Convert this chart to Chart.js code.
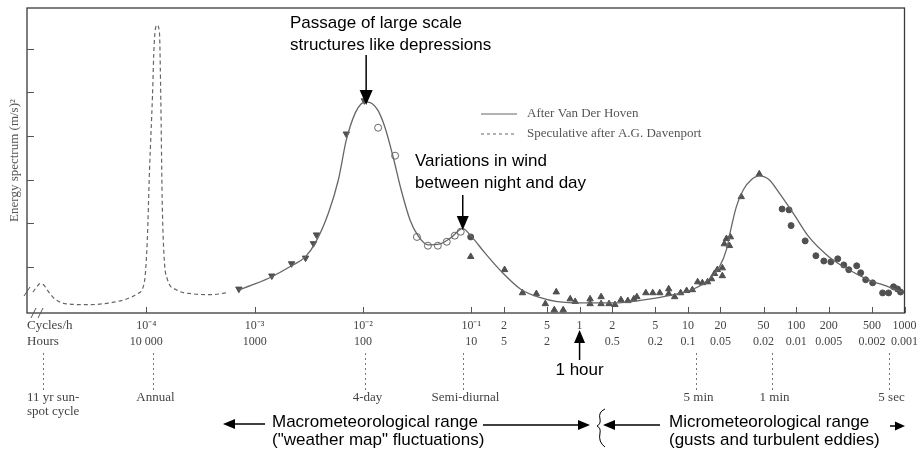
<!DOCTYPE html>
<html>
<head>
<meta charset="utf-8">
<script src="https://cdn.jsdelivr.net/npm/chart.js@4.4.1/dist/chart.umd.min.js"></script>
<style>
  html, body { margin: 0; padding: 0; background: #fff; }
</style>
</head>
<body>
<canvas id="spectrum" width="923" height="449"></canvas>
<script>
// frequencies in cycles per hour, energy in arbitrary linear units (one unit per y tick)
const curveFreq = [7.15e-4, 1.02e-3, 1.44e-3, 2.19e-3, 2.95e-3, 3.64e-3, 4.80e-3, 5.93e-3, 7.02e-3, 8.49e-3,
  9.64e-3, 1.07e-2, 1.22e-2, 1.38e-2, 1.60e-2, 1.90e-2, 2.25e-2, 2.72e-2, 3.22e-2, 3.98e-2,
  5.13e-2, 6.47e-2, 8.34e-2, 9.88e-2, 0.133, 0.186, 0.284, 0.434, 0.622, 1.10,
  2.08, 3.92, 7.39, 11.3, 15.8, 19.6, 22.7, 25.2, 28.0, 32.5,
  38.5, 45.6, 56.3, 69.6, 93.5, 131, 200, 306, 467, 713, 958];
const curveEnergy = [0.48, 0.62, 0.78, 1.03, 1.24, 1.56, 2.24, 3.00, 3.91, 4.53,
  4.74, 4.78, 4.74, 4.58, 4.19, 3.52, 2.77, 2.08, 1.72, 1.51,
  1.53, 1.67, 1.88, 1.72, 1.33, 0.92, 0.50, 0.30, 0.21, 0.18,
  0.18, 0.25, 0.37, 0.50, 0.73, 1.01, 1.40, 1.92, 2.38, 2.77,
  3.00, 3.09, 3.00, 2.70, 2.24, 1.69, 1.24, 0.94, 0.71, 0.55, 0.43];

const dashFreq = [8.97e-6, 9.76e-6, 1.04e-5, 1.13e-5, 1.23e-5, 1.43e-5, 1.84e-5, 2.81e-5, 4.57e-5, 6.55e-5,
  8.27e-5, 9.59e-5, 1.02e-4, 1.07e-4, 1.14e-4, 1.18e-4, 1.25e-4, 1.32e-4, 1.36e-4, 1.40e-4,
  1.46e-4, 1.56e-4, 1.89e-4, 2.65e-4, 4.04e-4, 5.43e-4];
const dashEnergy = [0.43, 0.55, 0.62, 0.59, 0.46, 0.27, 0.16, 0.14, 0.18, 0.27,
  0.39, 0.66, 1.62, 3.23, 4.94, 6.09, 6.54, 6.38, 4.83, 2.54,
  1.21, 0.73, 0.48, 0.39, 0.37, 0.41];

const downTriFreq = [7.15e-4, 1.44e-3, 2.19e-3, 2.95e-3, 3.49e-3, 3.72e-3, 7.02e-3, 1.03e-2];
const downTriEnergy = [0.50, 0.80, 1.08, 1.21, 1.54, 1.74, 4.05, 4.81];

const openCircFreq = [1.38e-2, 1.98e-2, 3.15e-2, 3.98e-2, 4.91e-2, 5.94e-2, 7.04e-2, 7.99e-2];
const openCircEnergy = [4.19, 3.55, 1.69, 1.49, 1.49, 1.58, 1.72, 1.81];

const upTriFreq = [0.0988, 0.203, 0.297, 0.399, 0.483, 0.609, 0.584, 0.706, 0.819, 0.910,
  1.25, 1.25, 1.58, 1.58, 1.87, 2.12, 2.41, 2.79, 3.17, 3.38,
  4.09, 4.74, 5.50, 6.65, 6.65, 7.55, 8.57, 9.73, 11.0, 12.3,
  13.6, 15.2, 16.5, 17.6, 18.7, 20.8, 20.8, 21.7, 22.7, 24.7, 24.2, 31.1, 45.6];
const upTriEnergy = [1.24, 0.94, 0.41, 0.39, 0.16, 0.43, 0.02, 0.02, 0.27, 0.21,
  0.27, 0.16, 0.32, 0.16, 0.16, 0.14, 0.25, 0.23, 0.27, 0.32,
  0.41, 0.41, 0.41, 0.50, 0.39, 0.32, 0.41, 0.46, 0.48, 0.66,
  0.64, 0.66, 0.73, 0.85, 0.94, 0.98, 0.80, 1.53, 1.65, 1.69, 1.49, 2.61, 3.13];

const dotFreq = [0.0988, 74.1, 85.9, 89.7, 121, 152, 180, 209, 242, 275,
  306, 362, 394, 438, 508, 628, 713, 792, 862, 919];
const dotEnergy = [1.69, 2.33, 2.31, 1.95, 1.60, 1.26, 1.14, 1.12, 1.19, 1.05,
  0.94, 1.03, 0.87, 0.71, 0.64, 0.41, 0.41, 0.55, 0.50, 0.43];

// axis ticks
const cycleTicks = [1e-4, 1e-3, 1e-2, 0.1, 0.2, 0.5, 1, 2, 5, 10, 20, 50, 100, 200, 500, 1000];
const cycleLabels = ['10\u207B\u2074', '10\u207B\u00B3', '10\u207B\u00B2', '10\u207B\u00B9', '2', '5', '1', '2', '5',
  '10', '20', '50', '100', '200', '500', '1000'];
const hourLabels = ['10 000', '1000', '100', '10', '5', '2', '', '0.5', '0.2', '0.1', '0.05', '0.02',
  '0.01', '0.005', '0.002', '0.001'];
const energyTicks = [1, 2, 3, 4, 5, 6];

// named periods under the axis
const periodFreq = [1.1e-5, 1 / 8766, 1 / 96, 1 / 12, 12, 60, 720];
const periodNames = [['11 yr sun-', 'spot cycle'], ['Annual'], ['4-day'], ['Semi-diurnal'], ['5 min'], ['1 min'], ['5 sec']];

const serif = '"Liberation Serif", "Times New Roman", serif';
const sans = '"Liberation Sans", Arial, sans-serif';

function toPoints(xs, ys) {
  return xs.map((v, i) => ({ x: v, y: ys[i] }));
}

function arrow(ctx, x1, y1, x2, y2, len, half) {
  const ang = Math.atan2(y2 - y1, x2 - x1);
  const bx = x2 - len * Math.cos(ang);
  const by = y2 - len * Math.sin(ang);
  ctx.beginPath();
  ctx.moveTo(x1, y1);
  ctx.lineTo(bx, by);
  ctx.stroke();
  ctx.beginPath();
  ctx.moveTo(x2, y2);
  ctx.lineTo(bx + half * Math.sin(ang), by - half * Math.cos(ang));
  ctx.lineTo(bx - half * Math.sin(ang), by + half * Math.cos(ang));
  ctx.closePath();
  ctx.fill();
}

const overlay = {
  id: 'overlay',
  afterDraw(chart) {
    const { ctx, chartArea: a, scales: { x, y } } = chart;
    ctx.save();

    // frame and inward ticks
    ctx.strokeStyle = '#3a3a3a';
    ctx.lineWidth = 1.3;
    ctx.strokeRect(a.left, a.top, a.right - a.left, a.bottom - a.top);
    ctx.lineWidth = 1;
    ctx.strokeStyle = '#555';
    ctx.beginPath();
    x.ticks.forEach(t => {
      const px = Math.round(x.getPixelForValue(t.value)) + 0.5;
      ctx.moveTo(px, a.bottom);
      ctx.lineTo(px, a.bottom - 6);
    });
    y.ticks.forEach(t => {
      const py = Math.round(y.getPixelForValue(t.value)) + 0.5;
      ctx.moveTo(a.left, py);
      ctx.lineTo(a.left + 7, py);
    });
    ctx.stroke();

    // axis break marks
    ctx.strokeStyle = '#555';
    ctx.beginPath();
    ctx.moveTo(31, a.bottom + 5); ctx.lineTo(36, a.bottom - 5);
    ctx.moveTo(38, a.bottom + 5); ctx.lineTo(43, a.bottom - 5);
    ctx.moveTo(a.left - 3, a.bottom - 17); ctx.lineTo(a.left + 3, a.bottom - 26);
    ctx.stroke();

    // row titles for the two tick rows
    ctx.fillStyle = '#444';
    ctx.font = '13px ' + serif;
    ctx.textAlign = 'left';
    ctx.textBaseline = 'middle';
    ctx.fillText('Cycles/h', a.left, 326);
    ctx.fillText('Hours', a.left, 342);

    // named periods with dotted guides
    ctx.setLineDash([2, 3]);
    ctx.strokeStyle = '#777';
    periodFreq.forEach((f, i) => {
      const px = Math.round(x.getPixelForValue(f)) + 0.5;
      ctx.beginPath();
      ctx.moveTo(px, 353);
      ctx.lineTo(px, 390);
      ctx.stroke();
      const names = periodNames[i];
      ctx.textAlign = i === 0 ? 'left' : 'center';
      names.forEach((n, j) => ctx.fillText(n, i === 0 ? a.left : px + 2, 398 + j * 14));
    });
    ctx.setLineDash([]);

    // legend
    ctx.strokeStyle = '#666';
    ctx.lineWidth = 1;
    ctx.beginPath(); ctx.moveTo(481, 114); ctx.lineTo(517, 114); ctx.stroke();
    ctx.setLineDash([3, 3]);
    ctx.beginPath(); ctx.moveTo(481, 134); ctx.lineTo(517, 134); ctx.stroke();
    ctx.setLineDash([]);
    ctx.fillStyle = '#555';
    ctx.textAlign = 'left';
    ctx.fillText('After Van Der Hoven', 527, 114);
    ctx.fillText('Speculative after A.G. Davenport', 527, 134);

    // annotations
    ctx.fillStyle = '#000';
    ctx.strokeStyle = '#000';
    ctx.lineWidth = 1.5;
    ctx.font = '17px ' + sans;
    ctx.textBaseline = 'alphabetic';
    ctx.fillText('Passage of large scale', 290, 28);
    ctx.fillText('structures like depressions', 290, 50);
    const peakX = x.getPixelForValue(0.0107);
    arrow(ctx, peakX, 55, peakX, 105, 15, 6.5);

    ctx.fillText('Variations in wind', 415, 166);
    ctx.fillText('between night and day', 415, 188);
    const semiX = x.getPixelForValue(0.0834);
    arrow(ctx, semiX, 195, semiX, 230, 14, 6);

    const hourX = x.getPixelForValue(1);
    arrow(ctx, hourX, 360, hourX, 330, 13, 5.5);
    ctx.textAlign = 'center';
    ctx.fillText('1 hour', hourX, 375);

    ctx.textAlign = 'left';
    ctx.fillText('Macrometeorological range', 272, 427);
    ctx.fillText('("weather map" fluctuations)', 272, 445);
    arrow(ctx, 265, 424, 223, 424, 12, 5);
    arrow(ctx, 483, 425, 590, 425, 12, 5);
    arrow(ctx, 660, 425, 603, 425, 12, 5);
    ctx.fillText('Micrometeorological range', 669, 427);
    ctx.fillText('(gusts and turbulent eddies)', 669, 445);
    arrow(ctx, 890, 426, 905, 426, 10, 4.5);

    // brace between the two ranges
    ctx.lineWidth = 1;
    ctx.beginPath();
    ctx.moveTo(605, 409);
    ctx.quadraticCurveTo(598, 412, 600, 419);
    ctx.quadraticCurveTo(601, 424, 597, 426);
    ctx.quadraticCurveTo(601, 428, 600, 433);
    ctx.quadraticCurveTo(598, 442, 605, 447);
    ctx.stroke();

    ctx.restore();
  }
};

const markerColor = '#505050';

new Chart(document.getElementById('spectrum'), {
  type: 'scatter',
  data: {
    datasets: [
      {
        label: 'After Van Der Hoven',
        data: toPoints(curveFreq, curveEnergy),
        showLine: true,
        borderColor: '#666',
        borderWidth: 1.3,
        pointRadius: 0,
        cubicInterpolationMode: 'monotone'
      },
      {
        label: 'Speculative after A.G. Davenport',
        data: toPoints(dashFreq, dashEnergy),
        showLine: true,
        borderColor: '#666',
        borderWidth: 1.2,
        borderDash: [4, 3],
        pointRadius: 0,
        cubicInterpolationMode: 'monotone'
      },
      {
        label: 'down triangles',
        data: toPoints(downTriFreq, downTriEnergy),
        pointStyle: 'triangle',
        pointRotation: 180,
        pointRadius: 3.7,
        backgroundColor: markerColor,
        borderColor: markerColor,
        borderWidth: 1
      },
      {
        label: 'open circles',
        data: toPoints(openCircFreq, openCircEnergy),
        pointStyle: 'circle',
        pointRadius: 3.5,
        backgroundColor: '#fff',
        borderColor: '#666',
        borderWidth: 1
      },
      {
        label: 'up triangles',
        data: toPoints(upTriFreq, upTriEnergy),
        pointStyle: 'triangle',
        pointRadius: 3.7,
        backgroundColor: markerColor,
        borderColor: markerColor,
        borderWidth: 1
      },
      {
        label: 'filled circles',
        data: toPoints(dotFreq, dotEnergy),
        pointStyle: 'circle',
        pointRadius: 3,
        backgroundColor: markerColor,
        borderColor: markerColor,
        borderWidth: 1
      }
    ]
  },
  options: {
    responsive: false,
    animation: false,
    devicePixelRatio: 1,
    layout: { padding: { top: 8, right: 14, left: 0, bottom: 0 } },
    plugins: {
      legend: { display: false },
      tooltip: { enabled: false }
    },
    scales: {
      x: {
        type: 'logarithmic',
        bounds: 'data',
        min: Math.pow(10, -5.102),
        max: 1000,
        grid: { display: false, drawTicks: false },
        border: { display: false },
        afterBuildTicks: (scale) => {
          scale.ticks = cycleTicks.map(v => ({ value: v }));
        },
        afterFit: (scale) => { scale.height = 136; },
        ticks: {
          autoSkip: false,
          maxRotation: 0,
          minRotation: 0,
          padding: 5,
          color: '#444',
          font: { family: serif, size: 12, lineHeight: 1.333 },
          callback: (value, index) => [cycleLabels[index], hourLabels[index]]
        }
      },
      y: {
        type: 'linear',
        min: -0.05,
        max: 6.93,
        grid: { display: false, drawTicks: false },
        border: { display: false },
        afterBuildTicks: (scale) => {
          scale.ticks = energyTicks.map(v => ({ value: v }));
        },
        afterFit: (scale) => { scale.width = 27; },
        ticks: { display: false },
        title: {
          display: true,
          text: 'Energy spectrum (m/s)\u00B2',
          color: '#555',
          font: { family: serif, size: 13 },
          padding: { top: 7, bottom: 0 }
        }
      }
    }
  },
  plugins: [overlay]
});
</script>
</body>
</html>
